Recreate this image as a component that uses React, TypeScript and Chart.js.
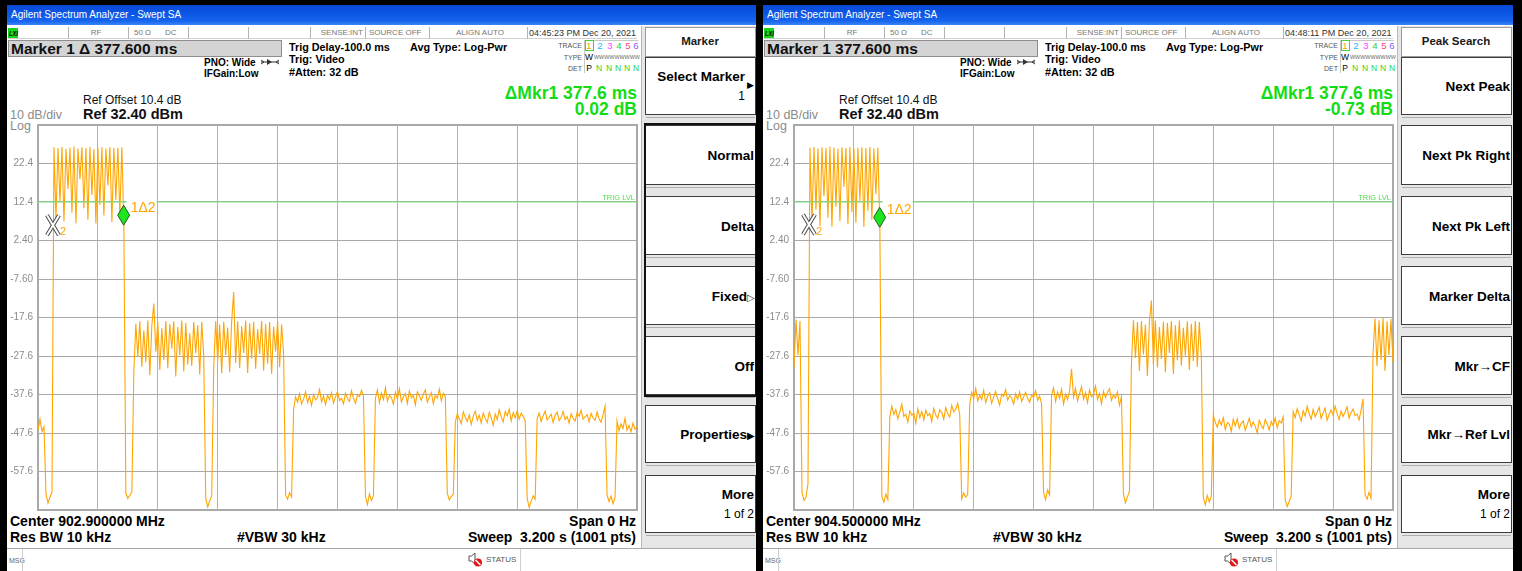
import React, { useEffect, useRef } from "react";
import { Chart, registerables } from "chart.js";

Chart.register(...registerables);

const FONT = '"Liberation Sans", Arial, Helvetica, sans-serif';

// Sweep / display settings
const SWEEP_S = 3.2;
const REF_LEVEL = 32.4;
const BOTTOM_LEVEL = -67.6;
const TRIG_LEVEL = 12.4;

const yTickValues = [32.4, 22.4, 12.4, 2.4, -7.6, -17.6, -27.6, -37.6, -47.6, -57.6, -67.6];
const yTickLabels = ["", "22.4", "12.4", "2.40", "-7.60", "-17.6", "-27.6", "-37.6", "-47.6", "-57.6", ""];
const xDivisions = [0, 0.32, 0.64, 0.96, 1.28, 1.6, 1.92, 2.24, 2.56, 2.88, 3.2];

// Zero-span trace, 902.9 MHz (dBm, evenly spaced over the sweep)
const traceA = [
  -46.8, -44.0, -47.2, -46.0,
  -63.5, -65.8, -64.2, -63.0,
  26.6, 8.2, 26.4, 12.5, 26.7, 7.4, 26.2, 15.8, 26.5, 9.6, 26.8, 6.9, 26.3, 18.4,
  26.6, 10.8, 26.4, 7.8, 26.7, 14.2, 26.1, 6.8, 26.5, 11.6, 26.6, 8.9, 26.3, 16.7,
  26.7, 7.2, 26.4, 12.9, 26.5, 9.1, 26.6, 6.4,
  -63.2, -64.6, -63.8, -62.9,
  -31.5, -19.2, -27.8, -18.6, -30.4, -21.0, -29.2, -18.4, -32.6, -19.8, -14.0, -26.5,
  -18.7, -31.2, -20.4, -28.6, -18.5, -30.8, -19.3, -25.7, -18.6, -32.9, -20.1, -27.4,
  -18.4, -31.6, -19.0, -29.8, -21.7, -30.2, -18.8, -26.9, -19.6, -32.4, -18.7, -27.5,
  -64.5, -66.8, -65.2, -64.0,
  -30.6, -18.5, -28.9, -19.4, -32.1, -18.7, -27.3, -20.2, -31.8, -18.5, -11.0, -29.4,
  -18.6, -30.7, -19.9, -26.8, -18.4, -32.0, -19.1, -28.3, -18.7, -30.9, -20.6, -27.1,
  -18.5, -31.4, -19.3, -29.6, -18.8, -32.2, -20.0, -26.4, -18.6, -30.5, -19.4, -27.0,
  -63.6, -64.8, -63.1, -64.2,
  -41.5, -38.2, -39.6, -37.4, -40.1, -38.8, -36.9, -39.7, -38.1, -40.4, -37.6, -39.0,
  -38.4, -36.3, -39.5, -38.0, -40.2, -37.8, -38.9, -37.1, -39.8, -38.3, -36.8, -39.2,
  -38.6, -40.0, -37.3, -38.7, -39.4, -36.6, -38.5, -39.9, -37.7, -38.2, -36.5, -38.0,
  -64.0, -66.2, -63.4, -65.1, -63.8,
  -38.6, -36.4, -39.7, -37.2, -38.9, -35.8, -39.3, -37.9, -38.4, -40.1, -37.0, -38.8,
  -36.1, -39.5, -38.2, -37.4, -39.9, -36.7, -38.5, -37.8, -40.3, -36.9, -38.0, -39.1,
  -37.5, -36.4, -39.6, -38.3, -37.1, -40.0, -37.7, -38.6, -36.2, -39.2, -37.3, -38.1,
  -63.3, -65.0, -64.1, -63.5,
  -44.8, -42.6, -43.9, -45.2, -42.1, -43.5, -44.6, -42.9, -45.4, -43.2, -41.9, -44.3,
  -43.0, -45.0, -42.4, -43.8, -44.9, -42.2, -43.6, -45.6, -42.7, -44.1, -41.6, -43.4,
  -44.7, -42.0, -43.1, -41.4, -44.5, -42.3, -43.7, -41.8, -44.0, -42.5, -43.3, -44.4,
  -64.6, -66.9, -65.3, -63.9, -64.8,
  -43.9, -42.4, -44.6, -43.1, -41.9, -44.2, -43.5, -42.7, -44.9, -43.0, -42.2, -44.4,
  -43.6, -42.0, -44.1, -43.3, -45.0, -42.6, -43.8, -44.5, -42.3, -43.2, -41.7, -44.0,
  -43.4, -42.8, -44.7, -42.5, -43.7, -44.3, -42.1, -43.9, -44.8, -42.9, -40.6,
  -63.7, -65.4, -64.0, -66.0, -64.3,
  -44.5, -47.0, -45.2, -46.4, -43.8, -46.9, -45.6, -47.3, -45.0, -46.6, -46.1,
];

// Zero-span trace, 904.5 MHz
const traceB = [
  -30.6, -18.1, -27.4, -18.5,
  -63.0, -65.1, -64.3, -60.8,
  26.5, 7.1, 26.7, 10.4, 26.3, 6.2, 26.6, 13.9, 26.4, 8.3, 26.8, 6.0, 26.5, 11.2,
  26.2, 7.5, 26.6, 16.3, 26.4, 6.6, 26.7, 9.8, 26.3, 7.0, 26.5, 12.7, 26.6, 5.9,
  26.4, 10.1, 26.7, 7.8, 26.3, 14.5, 26.5, 5.8,
  -64.0, -65.6, -63.5, -64.9,
  -43.4, -40.6, -42.8, -41.5, -43.9, -42.2, -40.1, -43.3, -42.7, -44.8, -41.9, -43.0,
  -42.4, -45.1, -41.3, -43.6, -42.0, -44.2, -41.7, -43.1, -42.5, -44.6, -41.2, -42.9,
  -43.8, -41.6, -42.3, -44.0, -41.0, -42.6, -43.5, -40.4, -42.1, -41.4, -39.9, -42.8,
  -64.7, -63.2, -64.3, -63.6,
  -40.2, -37.1, -38.6, -36.0, -39.3, -37.8, -38.9, -36.5, -39.7, -38.0, -37.2, -39.9,
  -38.3, -36.8, -38.7, -40.4, -37.5, -38.1, -36.3, -39.0, -37.9, -38.5, -40.1, -37.4,
  -38.8, -36.9, -39.4, -38.2, -37.0, -38.6, -39.6, -37.7, -38.4, -36.6, -39.1, -38.0, -40.0,
  -63.1, -64.9, -62.4, -63.7,
  -37.8, -35.9, -39.4, -37.0, -38.6, -36.2, -40.1, -37.5, -38.9, -36.7, -30.9, -38.3,
  -36.0, -39.2, -37.4, -35.6, -38.8, -37.1, -39.7, -36.4, -38.2, -37.6, -35.4, -38.9,
  -37.3, -40.0, -36.8, -38.4, -37.0, -36.1, -39.1, -37.7, -38.5, -36.9, -40.4, -38.1,
  -63.5, -65.7, -64.2, -62.8,
  -29.6, -18.3, -28.1, -18.8, -31.5, -18.5, -27.2, -19.4, -32.8, -18.6, -13.2, -29.9,
  -18.4, -30.6, -20.1, -28.4, -18.7, -31.9, -19.0, -26.8, -18.5, -32.3, -19.6, -28.7,
  -18.4, -30.1, -20.3, -27.5, -18.6, -31.2, -19.2, -28.9, -18.5, -30.4, -18.8, -27.9,
  -64.4, -66.3, -63.8, -65.5, -64.0,
  -43.0, -44.8, -46.1, -44.2, -45.5, -43.6, -46.7, -44.9, -45.3, -47.2, -44.0, -45.8,
  -43.9, -46.4, -45.1, -44.5, -46.9, -45.4, -43.8, -46.0, -44.7, -45.9, -47.6, -44.3,
  -45.6, -46.5, -44.1, -45.2, -46.8, -44.6, -45.7, -43.7, -46.2, -44.4, -45.0, -43.4,
  -64.9, -66.7, -65.4, -64.1,
  -42.0, -43.6, -41.3, -42.9, -44.5, -41.8, -43.2, -40.7, -42.6, -44.0, -41.5, -43.4,
  -42.2, -40.9, -43.8, -42.4, -41.1, -44.3, -42.8, -41.6, -43.0, -40.6, -42.5, -44.1,
  -41.9, -43.3, -42.1, -40.8, -43.7, -42.3, -41.4, -43.1, -42.7, -44.2, -41.7, -38.7,
  -63.6, -64.8, -63.0, -64.5,
  -26.8, -17.9, -30.2, -18.3, -28.6, -17.7, -31.5, -18.6, -27.4, -18.0, -29.3,
];

// Markers: [time s, level dBm]; marker 2 is the delta reference
const mkr1A = [0.4576, 6.38];
const mkr2A = [0.08, 6.36];
const mkr1B = [0.4576, 5.82];
const mkr2B = [0.08, 6.55];

type Key = { label: string; sub?: string; arrow?: "solid" | "hollow" };

const softkeysA: Key[] = [
  { label: "Select Marker", sub: "1", arrow: "solid" },
  { label: "Normal" },
  { label: "Delta" },
  { label: "Fixed", arrow: "hollow" },
  { label: "Off" },
  { label: "Properties", arrow: "solid" },
  { label: "More", sub: "1 of 2" },
];
const softkeysB: Key[] = [
  { label: "Next Peak" },
  { label: "Next Pk Right" },
  { label: "Next Pk Left" },
  { label: "Marker Delta" },
  { label: "Mkr\u2192CF" },
  { label: "Mkr\u2192Ref Lvl" },
  { label: "More", sub: "1 of 2" },
];
const keyTops = [57, 125, 196, 266, 336, 405, 475];
const keyHeights = [58, 60, 59, 59, 59, 58, 58];
const statusSeparators = [68, 128, 188, 248, 310, 365, 429, 527];

type TxProps = {
  x: number; y: number; s: number; b?: boolean; c?: string;
  a?: "l" | "r" | "c"; children: React.ReactNode; sx?: number; it?: boolean;
};
function Tx({ x, y, s, b, c = "#000", a = "l", children, sx = 1, it }: TxProps) {
  const tx = a === "r" ? "translateX(-100%)" : a === "c" ? "translateX(-50%)" : "";
  return (
    <div
      style={{
        position: "absolute", left: x, top: y - s / 2, fontSize: s, lineHeight: `${s}px`,
        fontWeight: b ? 700 : 400, color: c, whiteSpace: "nowrap", fontFamily: FONT,
        fontStyle: it ? "italic" : "normal",
        transform: `${tx} scaleX(${sx})`,
        transformOrigin: a === "r" ? "right center" : a === "c" ? "center" : "left center",
      }}
    >
      {children}
    </div>
  );
}

function Box(props: { x: number; y: number; w: number; h: number; style?: React.CSSProperties }) {
  return (
    <div style={{ position: "absolute", left: props.x, top: props.y, width: props.w, height: props.h, boxSizing: "border-box", ...props.style }} />
  );
}

function TraceChart({ trace, mkr1, mkr2 }: { trace: number[]; mkr1: number[]; mkr2: number[] }) {
  const ref = useRef<HTMLCanvasElement>(null);
  useEffect(() => {
    const canvas = ref.current;
    if (!canvas) return;
    const overlay = {
      id: "analyzerOverlay",
      beforeDatasetsDraw(chart: any) {
        const { ctx, chartArea: a } = chart;
        ctx.save();
        ctx.strokeStyle = "#a9a9a9";
        ctx.lineWidth = 2;
        ctx.strokeRect(a.left, a.top, a.right - a.left, a.bottom - a.top);
        ctx.restore();
      },
      afterDatasetsDraw(chart: any) {
        const { ctx, chartArea: a, scales } = chart;
        const xs = scales.x, ys = scales.y;
        ctx.save();
        const ty = ys.getPixelForValue(TRIG_LEVEL);
        ctx.font = `7.5px ${FONT}`;
        ctx.fillStyle = "#4fdc4f";
        ctx.textAlign = "right";
        ctx.textBaseline = "alphabetic";
        ctx.fillText("TRIG LVL", a.right - 2, ty - 2);

        const px2 = xs.getPixelForValue(mkr2[0]), py2 = ys.getPixelForValue(mkr2[1]);
        const px1 = xs.getPixelForValue(mkr1[0]), py1 = ys.getPixelForValue(mkr1[1]);

        // reference marker: hollow X with index 2
        ctx.lineCap = "butt";
        const strokes: [number, string][] = [[4, "#4a4a4a"], [2, "#ffffff"]];
        for (const [w, c] of strokes) {
          ctx.lineWidth = w;
          ctx.strokeStyle = c;
          ctx.beginPath();
          ctx.moveTo(px2 - 6, py2 - 10); ctx.lineTo(px2 + 6, py2 + 10);
          ctx.moveTo(px2 + 6, py2 - 10); ctx.lineTo(px2 - 6, py2 + 10);
          ctx.stroke();
        }
        ctx.fillStyle = "#ffa500";
        ctx.font = `11px ${FONT}`;
        ctx.textAlign = "left";
        ctx.fillText("2", px2 + 7, py2 + 10);

        // delta marker label
        ctx.fillStyle = "#ffffff";
        ctx.fillRect(px1 + 3, py1 - 27, 30, 16);
        ctx.fillStyle = "#ffa500";
        ctx.font = `14px ${FONT}`;
        ctx.fillText("1\u03942", px1 + 7, py1 - 13);

        // delta marker diamond, tip on the trace point
        ctx.beginPath();
        ctx.moveTo(px1, py1);
        ctx.lineTo(px1 + 6, py1 - 10);
        ctx.lineTo(px1, py1 - 20);
        ctx.lineTo(px1 - 6, py1 - 10);
        ctx.closePath();
        ctx.fillStyle = "#1ee61e";
        ctx.fill();
        ctx.strokeStyle = "#1f5a1f";
        ctx.lineWidth = 1;
        ctx.stroke();
        ctx.restore();
      },
    };

    const points = trace.map((v, i) => ({ x: (i * SWEEP_S) / (trace.length - 1), y: v }));
    const chart = new Chart(canvas, {
      type: "line",
      data: {
        datasets: [
          {
            data: [{ x: 0, y: TRIG_LEVEL }, { x: SWEEP_S, y: TRIG_LEVEL }],
            borderColor: "#78e678", borderWidth: 1, pointRadius: 0, order: 0,
          },
          {
            data: points, borderColor: "#ffa500", borderWidth: 1.1, pointRadius: 0,
            tension: 0, borderJoinStyle: "miter", order: 1,
          },
        ],
      },
      options: {
        animation: false, responsive: false, maintainAspectRatio: false, devicePixelRatio: 1,
        events: [],
        layout: { padding: { left: 0, top: 5, right: 3, bottom: 3 } },
        plugins: { legend: { display: false }, tooltip: { enabled: false } },
        scales: {
          x: {
            type: "linear", min: 0, max: SWEEP_S,
            afterBuildTicks: (s: any) => { s.ticks = xDivisions.map((v) => ({ value: v })); },
            afterFit: (s: any) => { s.height = 0; s.paddingLeft = 0; s.paddingRight = 0; },
            ticks: { display: false },
            grid: { color: "#b2b2b2", drawTicks: false },
            border: { display: false },
          },
          y: {
            type: "linear", min: BOTTOM_LEVEL, max: REF_LEVEL,
            afterBuildTicks: (s: any) => { s.ticks = yTickValues.map((v) => ({ value: v })); },
            afterFit: (s: any) => { s.width = 38; s.paddingTop = 0; s.paddingBottom = 0; },
            ticks: {
              autoSkip: false, padding: 5, color: "#8c8c8c",
              font: { family: FONT, size: 10 },
              callback: (v: any) => yTickLabels[yTickValues.indexOf(Number(v))] ?? "",
            },
            grid: { color: "#a8a8a8", drawTicks: false },
            border: { display: false },
          },
        },
      },
      plugins: [overlay],
    } as any);
    return () => chart.destroy();
  }, [trace, mkr1, mkr2]);
  return (
    <canvas
      ref={ref}
      width={640}
      height={393}
      style={{ position: "absolute", left: 0, top: 120, width: 640, height: 393 }}
    />
  );
}

function Softkeys({ title, keys, group }: { title: string; keys: Key[]; group: boolean }) {
  return (
    <>
      <Box x={641} y={26} w={116} h={523} style={{ background: "#e6e6e6", borderLeft: "1px solid #b8b8b8" }} />
      <Box x={645} y={27} w={111} h={30} style={{ background: "#fff", border: "1px solid #9c9c9c" }} />
      <Tx x={700} y={42} s={11.5} b a="c" c="#1a1a1a">{title}</Tx>
      {keys.map((k, i) => {
        const top = keyTops[i];
        const h = keyHeights[i];
        const first = i === 0;
        const ly = k.sub ? top + 20 : top + h / 2 + 1;
        const right = first && k.arrow ? 745 : 754;
        return (
          <React.Fragment key={i}>
            <Box x={645} y={top} w={111} h={h} style={{ background: "#fff", border: "1px solid #3c3c3c" }} />
            <Box x={646} y={top + h + 2} w={109} h={1} style={{ background: "#b0b0b0" }} />
            {k.arrow && !first ? (
              <Tx x={755} y={ly} s={13.5} b a="r">
                {k.label}
                <span style={{ fontSize: 10, fontWeight: 400, color: k.arrow === "hollow" ? "#333" : "#000" }}>
                  {k.arrow === "hollow" ? "\u25B7" : "\u25B6"}
                </span>
              </Tx>
            ) : (
              <Tx x={right} y={ly} s={13.5} b a="r">{k.label}</Tx>
            )}
            {first && k.arrow ? <Tx x={747} y={top + 28} s={9}>{"\u25B6"}</Tx> : null}
            {k.sub ? <Tx x={first ? 745 : 754} y={top + 39} s={12} a="r">{k.sub}</Tx> : null}
          </React.Fragment>
        );
      })}
      {group ? (
        <Box x={644} y={123} w={113} h={274} style={{ border: "2px solid #111" }} />
      ) : null}
    </>
  );
}

type PanelProps = {
  left: number; width: number; trace: number[]; mkr1: number[]; mkr2: number[];
  deltaTitle: boolean; clock: string; center: string; keyTitle: string; keys: Key[]; group: boolean;
};

function Panel(p: PanelProps) {
  const dtMs = (p.mkr1[0] - p.mkr2[0]) * 1000;
  const dLevel = p.mkr1[1] - p.mkr2[1];
  const digits = [
    { d: "1", c: "#f0a000", x: 589 },
    { d: "2", c: "#14b8ff", x: 600 },
    { d: "3", c: "#ff3cff", x: 610 },
    { d: "4", c: "#34cc34", x: 619 },
    { d: "5", c: "#ff3c78", x: 628 },
    { d: "6", c: "#8a5cff", x: 636 },
  ];
  return (
    <div style={{ position: "absolute", left: p.left, top: 0, width: p.width, height: 571, background: "#000" }}>
      <Box x={7} y={5} w={750} h={566} style={{ background: "#fff" }} />
      {/* window title */}
      <Box x={7} y={5} w={750} h={20} style={{ background: "linear-gradient(#0848d4 0%, #0b58e6 45%, #1664ee 80%, #3a84f6 100%)" }} />
      <Tx x={11} y={15} s={10} c="#fff">Agilent Spectrum Analyzer - Swept SA</Tx>

      {/* instrument status row */}
      <Box x={8} y={27} w={629} h={12} style={{ borderBottom: "1px solid #d0d0d0" }} />
      {statusSeparators.map((sx) => (
        <Box key={sx} x={sx} y={27} w={1} h={12} style={{ background: "#b4b4b4" }} />
      ))}
      <Box x={8} y={28} w={10} h={10} style={{ background: "#19d419" }} />
      <Tx x={8.5} y={33} s={7} b it sx={0.8}>LXI</Tx>
      <Tx x={96} y={33} s={8} c="#777" a="c">RF</Tx>
      <Tx x={134} y={33} s={8} c="#777">50 Ω</Tx>
      <Tx x={165} y={33} s={8} c="#777">DC</Tx>
      <Tx x={363} y={33} s={8} c="#777" a="r">SENSE:INT</Tx>
      <Tx x={369} y={33} s={8} c="#777">SOURCE OFF</Tx>
      <Tx x={456} y={33} s={8} c="#777">ALIGN AUTO</Tx>
      <Tx x={529} y={33} s={9} c="#333">{p.clock}</Tx>

      {/* active function */}
      <Box x={8} y={40} w={274} h={17} style={{ background: "#d4d4d4", border: "1px solid #8e8e8e" }} />
      <Tx x={11} y={48.5} s={15.5} b c="#111">
        {p.deltaTitle ? `Marker 1 \u0394 ${dtMs.toFixed(3)} ms` : `Marker 1 ${dtMs.toFixed(3)} ms`}
      </Tx>
      <Tx x={204} y={62.5} s={10} b>PNO: Wide</Tx>
      <svg style={{ position: "absolute", left: 261, top: 58 }} width="18" height="8" viewBox="0 0 18 8">
        <line x1="0" y1="4" x2="18" y2="4" stroke="#333" strokeWidth="1" />
        <path d="M6 1 L11 4 L6 7 Z" fill="#333" />
        <path d="M0 2 L3 4 L0 6" fill="none" stroke="#333" />
        <path d="M18 2 L15 4 L18 6" fill="none" stroke="#333" />
      </svg>
      <Tx x={204} y={73.5} s={10} b>IFGain:Low</Tx>
      <Tx x={289} y={47} s={10.8} b>Trig Delay-100.0 ms</Tx>
      <Tx x={289} y={59} s={10.8} b>Trig: Video</Tx>
      <Tx x={289} y={72} s={10.8} b>#Atten: 32 dB</Tx>
      <Tx x={410} y={47} s={10.8} b>Avg Type: Log-Pwr</Tx>

      {/* trace status */}
      <Box x={584} y={40} w={54} h={33} style={{ borderLeft: "1px solid #c8c8c8", borderTop: "1px solid #c8c8c8" }} />
      <Tx x={582} y={45} s={7} c="#555" a="r">TRACE</Tx>
      <Tx x={582} y={57} s={7} c="#555" a="r">TYPE</Tx>
      <Tx x={582} y={68} s={7} c="#555" a="r">DET</Tx>
      <Box x={585} y={40} w={9} h={11} style={{ border: "1px solid #3ed43e" }} />
      {digits.map((d) => (
        <Tx key={d.d} x={d.x} y={45.5} s={9.5} c={d.c} a="c">{d.d}</Tx>
      ))}
      <Tx x={589} y={57} s={8.5} a="c">W</Tx>
      <Tx x={594} y={56.5} s={6} c="#666" sx={0.9}>WWWWWWWWW</Tx>
      <Tx x={589} y={68} s={8.5} a="c">P</Tx>
      {[599, 609, 618, 627, 636].map((x) => (
        <Tx key={x} x={x} y={68} s={8.5} c="#2ed42e" a="c">N</Tx>
      ))}

      {/* marker readout */}
      <Tx x={637} y={93.5} s={17.5} b c="#14dc14" a="r">{`\u0394Mkr1 ${dtMs.toFixed(1)} ms`}</Tx>
      <Tx x={637} y={109.5} s={17.5} b c="#14dc14" a="r">{`${dLevel.toFixed(2)} dB`}</Tx>

      <Tx x={83} y={100} s={12} c="#111">Ref Offset 10.4 dB</Tx>
      <Tx x={83} y={114} s={14.5} b c="#111">Ref 32.40 dBm</Tx>
      <Tx x={10} y={115} s={12.5} c="#8a8a8a">10 dB/div</Tx>
      <Tx x={10} y={126} s={12.5} c="#8a8a8a">Log</Tx>

      <TraceChart trace={p.trace} mkr1={p.mkr1} mkr2={p.mkr2} />

      {/* sweep settings */}
      <Tx x={10} y={521} s={14} b>{p.center}</Tx>
      <Tx x={10} y={537} s={14} b>Res BW 10 kHz</Tx>
      <Tx x={237} y={537} s={14} b>#VBW 30 kHz</Tx>
      <Tx x={636} y={521} s={14} b a="r">Span 0 Hz</Tx>
      <Tx x={636} y={537} s={14} b a="r">Sweep&nbsp; 3.200 s (1001 pts)</Tx>

      <Softkeys title={p.keyTitle} keys={p.keys} group={p.group} />

      {/* message bar */}
      <Box x={7} y={548} w={750} h={23} style={{ background: "#fff", borderTop: "1px solid #a8a8a8" }} />
      <Tx x={9} y={560} s={7} c="#666">MSG</Tx>
      <Box x={22} y={549} w={1} h={22} style={{ background: "#cfcfcf" }} />
      <svg style={{ position: "absolute", left: 467, top: 551 }} width="16" height="16" viewBox="0 0 16 16">
        <path d="M2 5 H4.5 L8 2 V13 L4.5 10 H2 Z" fill="#fff" stroke="#555" strokeWidth="1" />
        <circle cx="11" cy="11.5" r="4" fill="#e01818" />
        <line x1="8.6" y1="9.1" x2="13.4" y2="13.9" stroke="#fff" strokeWidth="1.4" />
      </svg>
      <Tx x={486} y={560} s={8} c="#555">STATUS</Tx>
      <Box x={520} y={549} w={1} h={22} style={{ background: "#cfcfcf" }} />
    </div>
  );
}

export default function App() {
  return (
    <div style={{ position: "fixed", left: 0, top: 0, width: 1522, height: 571, background: "#000", overflow: "hidden", fontFamily: FONT }}>
      <Panel
        left={0} width={757} trace={traceA} mkr1={mkr1A} mkr2={mkr2A} deltaTitle
        clock="04:45:23 PM Dec 20, 2021" center="Center 902.900000 MHz"
        keyTitle="Marker" keys={softkeysA} group
      />
      <Panel
        left={756} width={766} trace={traceB} mkr1={mkr1B} mkr2={mkr2B} deltaTitle={false}
        clock="04:48:11 PM Dec 20, 2021" center="Center 904.500000 MHz"
        keyTitle="Peak Search" keys={softkeysB} group={false}
      />
    </div>
  );
}
